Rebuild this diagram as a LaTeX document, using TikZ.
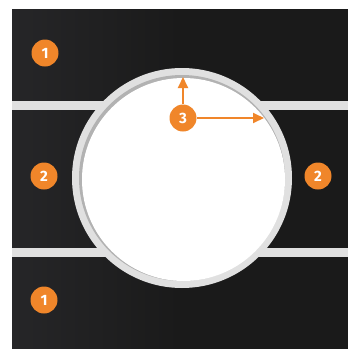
\documentclass[tikz,border=0pt]{standalone}
\usepackage{fontspec}
\setmainfont{Fira Sans}
\usetikzlibrary{arrows.meta}
\definecolor{orng}{HTML}{F0862A}
\definecolor{blk}{HTML}{1A1A1A}
\definecolor{blkhi}{HTML}{262628}
\definecolor{ringc}{HTML}{E0E0E0}
\begin{document}
\begin{tikzpicture}[x=1pt,y=-1pt,
  badge/.style={circle,fill=orng,text=white,minimum size=27pt,inner sep=0pt,font=\bfseries\fontsize{15}{15}\selectfont},
  pointer/.style={orng,line width=2pt,-{Triangle[length=11pt,width=10pt]}},
  block/.style={left color=blkhi,right color=blk,middle color=blk}]
\useasboundingbox (0,0) rectangle (348,349);
\fill[ringc] (12,100) rectangle (348,257);
\fill[block] (12,9) rectangle (348,100);
\fill[block] (12,110) rectangle (348,247);
\fill[block] (12,257) rectangle (348,348);
\fill[ringc] (182,178) circle[radius=110pt];
\fill[gray!60] (182,178) circle[radius=103pt];
\fill[white] (183.5,179.5) circle[radius=101.5pt];
\node[badge] (b1t) at (45,53) {1};
\node[badge] (b2l) at (44,176) {2};
\node[badge] (b2r) at (318,176) {2};
\node[badge] (b1b) at (44,300) {1};
\node[badge] (b3) at (183,118) {3};
\coordinate (rimtop) at (183,77);
\coordinate (rimright) at (264,118);
\draw[pointer] (b3.north) -- (rimtop);
\draw[pointer] (b3.east) -- (rimright);
\end{tikzpicture}
\end{document}
